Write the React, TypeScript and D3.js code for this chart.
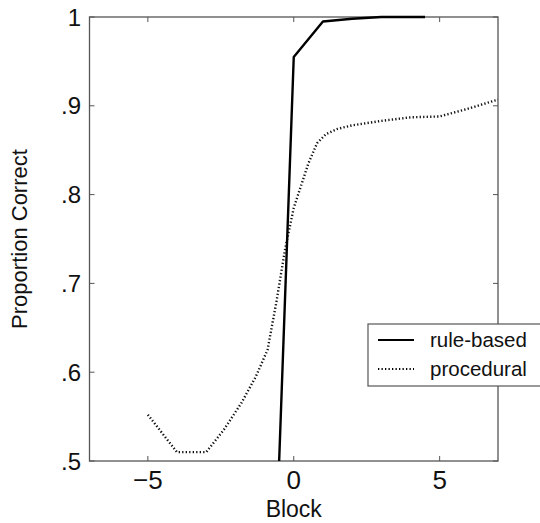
import React from 'react';
import * as d3 from 'd3';

// blocks relative to criterion block (0)
const ruleBlocks = [-1, 0, 1, 2, 3, 4, 4.5];
const ruleValues = [0.045, 0.955, 0.995, 0.998, 1, 1, 1];

const procBlocks = [-5, -4, -3, -2.4, -1.8, -1.3, -0.9, -0.6, -0.3, 0, 0.5, 0.8, 1.1, 1.5, 2, 3, 4, 5, 6, 7];
const procValues = [0.552, 0.51, 0.51, 0.535, 0.565, 0.595, 0.625, 0.678, 0.738, 0.785, 0.835, 0.858, 0.868, 0.874, 0.878, 0.883, 0.887, 0.888, 0.897, 0.907];

const xTicks = [-5, 0, 5];
const yTicks = [0.5, 0.6, 0.7, 0.8, 0.9, 1];
const yTickLabels = ['.5', '.6', '.7', '.8', '.9', '1'];
const legendLabels = ['rule-based', 'procedural'];

const width = 540, height = 523;
const margin = { top: 17, right: 42, bottom: 62, left: 89.5 };
const font = '"Liberation Sans", Arial, Helvetica, sans-serif';
const axisColor = '#555';

function App() {
  const x = d3.scaleLinear().domain([-7, 7]).range([margin.left, width - margin.right]);
  const y = d3.scaleLinear().domain([0.5, 1]).range([height - margin.bottom, margin.top]);

  const line = d3.line<[number, number]>()
    .x(d => x(d[0]))
    .y(d => y(d[1]));

  const rulePath = line(ruleBlocks.map((b, i) => [b, ruleValues[i]]));
  const procPath = line(procBlocks.map((b, i) => [b, procValues[i]]));

  const x0 = x.range()[0], x1 = x.range()[1];
  const y0 = y.range()[0], y1 = y.range()[1];
  const tick = 5;

  const lg = { left: 368, top: 324, right: 548, bottom: 386 };

  return (
    <svg width={width} height={height} style={{ position: 'absolute', left: 0, top: 0, background: '#fff' }}>
      <defs>
        <clipPath id="plot">
          <rect x={x0} y={y1 - 2} width={x1 - x0} height={y0 - y1 + 2} />
        </clipPath>
      </defs>

      {/* box */}
      <rect x={x0} y={y1} width={x1 - x0} height={y0 - y1} fill="none" stroke={axisColor} strokeWidth={1.3} />

      {/* x ticks, bottom and top */}
      {xTicks.map(t => (
        <g key={'x' + t}>
          <line x1={x(t)} x2={x(t)} y1={y0} y2={y0 - tick} stroke={axisColor} strokeWidth={1} />
          <line x1={x(t)} x2={x(t)} y1={y1} y2={y1 + tick} stroke={axisColor} strokeWidth={1} />
          <text x={x(t)} y={489} textAnchor="middle" fontFamily={font} fontSize={26} fill="#111">
            {t < 0 ? '\u2212' + Math.abs(t) : t}
          </text>
        </g>
      ))}

      {/* y ticks, left and right */}
      {yTicks.map((t, i) => (
        <g key={'y' + t}>
          <line x1={x0} x2={x0 + tick} y1={y(t)} y2={y(t)} stroke={axisColor} strokeWidth={1} />
          <line x1={x1} x2={x1 - tick} y1={y(t)} y2={y(t)} stroke={axisColor} strokeWidth={1} />
          <text x={81} y={y(t)} dy="0.36em" textAnchor="end" fontFamily={font} fontSize={24} fill="#111">
            {yTickLabels[i]}
          </text>
        </g>
      ))}

      <g clipPath="url(#plot)">
        <path d={procPath || ''} fill="none" stroke="#111" strokeWidth={2.4} strokeDasharray="1.3 2.2" />
        <path d={rulePath || ''} fill="none" stroke="#000" strokeWidth={2.4} strokeLinejoin="round" />
      </g>

      <text x={(x0 + x1) / 2} y={517} textAnchor="middle" fontFamily={font} fontSize={23} fill="#111">Block</text>
      <text transform={`translate(27,${(y0 + y1) / 2}) rotate(-90)`} textAnchor="middle" fontFamily={font} fontSize={22} fill="#111">
        Proportion Correct
      </text>

      {/* legend */}
      <rect x={lg.left} y={lg.top} width={lg.right - lg.left} height={lg.bottom - lg.top} fill="#fff" stroke={axisColor} strokeWidth={1.2} />
      {legendLabels.map((lab, i) => {
        const cy = lg.top + 16 + i * 29;
        return (
          <g key={lab}>
            <line x1={378} x2={414} y1={cy} y2={cy} stroke="#000" strokeWidth={2.2}
              strokeDasharray={i === 0 ? undefined : '1.3 2.2'} />
            <text x={430} y={cy} dy="0.35em" fontFamily={font} fontSize={20.5} fill="#111">{lab}</text>
          </g>
        );
      })}
    </svg>
  );
}

export default App;
